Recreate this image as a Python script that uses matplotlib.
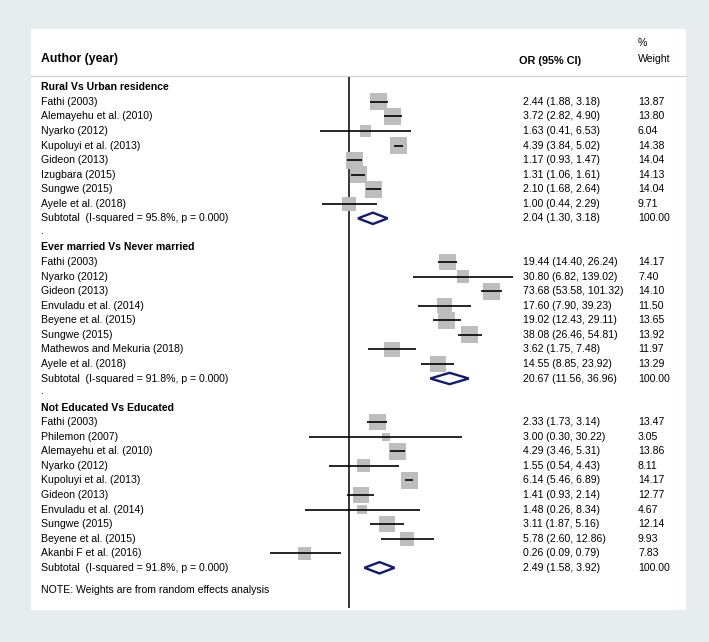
"""
Forest plot of odds ratios by subgroup (Stata metan style).
"""

import numpy as np
import matplotlib
matplotlib.use("Agg")
import matplotlib.pyplot as plt
from matplotlib.patches import Rectangle
from matplotlib.transforms import blended_transform_factory

plt.rcParams["font.family"] = ["Liberation Sans", "DejaVu Sans"]

# ---- data -----------------------------------------------------------------
rural_labels = [
    "Fathi (2003)", "Alemayehu et al. (2010)", "Nyarko (2012)",
    "Kupoluyi et al. (2013)", "Gideon (2013)", "Izugbara (2015)",
    "Sungwe (2015)", "Ayele et al. (2018)",
]
rural_or = [2.44, 3.72, 1.63, 4.39, 1.17, 1.31, 2.10, 1.00]
rural_lo = [1.88, 2.82, 0.41, 3.84, 0.93, 1.06, 1.68, 0.44]
rural_hi = [3.18, 4.90, 6.53, 5.02, 1.47, 1.61, 2.64, 2.29]
rural_w = [13.87, 13.80, 6.04, 14.38, 14.04, 14.13, 14.04, 9.71]
rural_sub = (2.04, 1.30, 3.18, "Subtotal  (I-squared = 95.8%, p = 0.000)")

married_labels = [
    "Fathi (2003)", "Nyarko (2012)", "Gideon (2013)",
    "Envuladu et al. (2014)", "Beyene et al. (2015)", "Sungwe (2015)",
    "Mathewos and Mekuria (2018)", "Ayele et al. (2018)",
]
married_or = [19.44, 30.80, 73.68, 17.60, 19.02, 38.08, 3.62, 14.55]
married_lo = [14.40, 6.82, 53.58, 7.90, 12.43, 26.46, 1.75, 8.85]
married_hi = [26.24, 139.02, 101.32, 39.23, 29.11, 54.81, 7.48, 23.92]
married_w = [14.17, 7.40, 14.10, 11.50, 13.65, 13.92, 11.97, 13.29]
married_sub = (20.67, 11.56, 36.96, "Subtotal  (I-squared = 91.8%, p = 0.000)")

edu_labels = [
    "Fathi (2003)", "Philemon (2007)", "Alemayehu et al. (2010)",
    "Nyarko (2012)", "Kupoluyi et al. (2013)", "Gideon (2013)",
    "Envuladu et al. (2014)", "Sungwe (2015)", "Beyene et al. (2015)",
    "Akanbi F et al. (2016)",
]
edu_or = [2.33, 3.00, 4.29, 1.55, 6.14, 1.41, 1.48, 3.11, 5.78, 0.26]
edu_lo = [1.73, 0.30, 3.46, 0.54, 5.46, 0.93, 0.26, 1.87, 2.60, 0.09]
edu_hi = [3.14, 30.22, 5.31, 4.43, 6.89, 2.14, 8.34, 5.16, 12.86, 0.79]
edu_w = [13.47, 3.05, 13.86, 8.11, 14.17, 12.77, 4.67, 12.14, 9.93, 7.83]
edu_sub = (2.49, 1.58, 3.92, "Subtotal  (I-squared = 91.8%, p = 0.000)")

groups = [
    ("Rural Vs Urban residence", rural_labels, rural_or, rural_lo, rural_hi, rural_w, rural_sub),
    ("Ever married Vs Never married", married_labels, married_or, married_lo, married_hi, married_w, married_sub),
    ("Not Educated Vs Educated", edu_labels, edu_or, edu_lo, edu_hi, edu_w, edu_sub),
]
note = "NOTE: Weights are from random effects analysis"

# ---- layout (pixels of a 709x642 canvas) ------------------------------------
W, H = 709, 642
DPI = 100
null_px = 349.3       # x pixel where OR = 1
px_per_ln = 33.1      # pixels per unit of ln(OR)
row0_px = 87.3        # first row centre
row_step = 14.56      # pixels per row
ax_left, ax_right = 230, 560
ax_top, ax_bot = 76.5, 608

BG = "#E7EDEF"
BOX = "#BDBDBD"
NAVY = "#101C6E"

fig = plt.figure(figsize=(W / DPI, H / DPI), dpi=DPI, facecolor=BG)

# white panel + header separator
fig.patches.append(Rectangle((31 / W, 1 - 610 / H), (686 - 31) / W, (610 - 29) / H,
                             transform=fig.transFigure, facecolor="white",
                             edgecolor="none", zorder=-5))
fig.add_artist(plt.Line2D([31 / W, 686 / W], [1 - 76 / H, 1 - 76 / H],
                          transform=fig.transFigure, color="#CDD3D6", lw=0.9, zorder=-4))

ax = fig.add_axes([ax_left / W, 1 - ax_bot / H, (ax_right - ax_left) / W,
                   (ax_bot - ax_top) / H])
ax.set_zorder(1)
ax.set_xscale("log")
ax.set_xlim(np.exp((ax_left - null_px) / px_per_ln), np.exp((ax_right - null_px) / px_per_ln))
ax.set_ylim((ax_bot - row0_px) / row_step, (ax_top - row0_px) / row_step)
ax.axis("off")
ax.axvline(1, color="black", lw=1.1, zorder=1)

tr = blended_transform_factory(fig.transFigure, ax.transData)
x_lab, x_or, x_w = 40.7 / W, 523 / W, 638 / W
fs = 7.6

row = 0
for title, labels, ors, los, his, ws, sub in groups:
    ax.text(x_lab, row, title, transform=tr, fontsize=fs, fontweight="bold",
            va="center", ha="left")
    row += 1
    rows = np.arange(row, row + len(labels))
    side = np.sqrt(ws) * 4.5 * 72 / DPI
    ax.scatter(ors, rows, marker="s", s=side ** 2, color=BOX, linewidths=0, zorder=2)
    ax.hlines(rows, los, his, color="black", lw=1.2, zorder=3)
    for r, lab, o, lo, hi, w in zip(rows, labels, ors, los, his, ws):
        ax.text(x_lab, r, lab, transform=tr, fontsize=fs, va="center")
        ax.text(x_or, r, f"{o:.2f} ({lo:.2f}, {hi:.2f})", transform=tr, fontsize=fs, va="center")
        ax.text(x_w, r, f"{w:.2f}", transform=tr, fontsize=fs, va="center")
    row += len(labels)
    o, lo, hi, lab = sub
    ax.fill([lo, o, hi, o], [row, row - 0.39, row, row + 0.39], facecolor="none",
            edgecolor=NAVY, lw=1.7, joinstyle="miter", zorder=4)
    ax.text(x_lab, row, lab, transform=tr, fontsize=fs, va="center")
    ax.text(x_or, row, f"{o:.2f} ({lo:.2f}, {hi:.2f})", transform=tr, fontsize=fs, va="center")
    ax.text(x_w, row, "100.00", transform=tr, fontsize=fs, va="center")
    row += 1
    if row < 30:
        ax.text(x_lab, row - 0.15, ".", transform=tr, fontsize=fs, va="center")
        row += 1

ax.text(x_lab, row + 0.5, note, transform=tr, fontsize=fs, va="center")

# column headers
fig.text(40.7 / W, 1 - 59 / H, "Author (year)", fontsize=8.8, fontweight="bold", va="center")
fig.text(519 / W, 1 - 60.5 / H, "OR (95% CI)", fontsize=7.8, fontweight="bold", va="center")
fig.text(637.5 / W, 1 - 43 / H, "%", fontsize=7.6, va="center")
fig.text(637.5 / W, 1 - 59 / H, "Weight", fontsize=7.6, va="center")

fig.savefig("out.png", dpi=DPI, facecolor=BG)
